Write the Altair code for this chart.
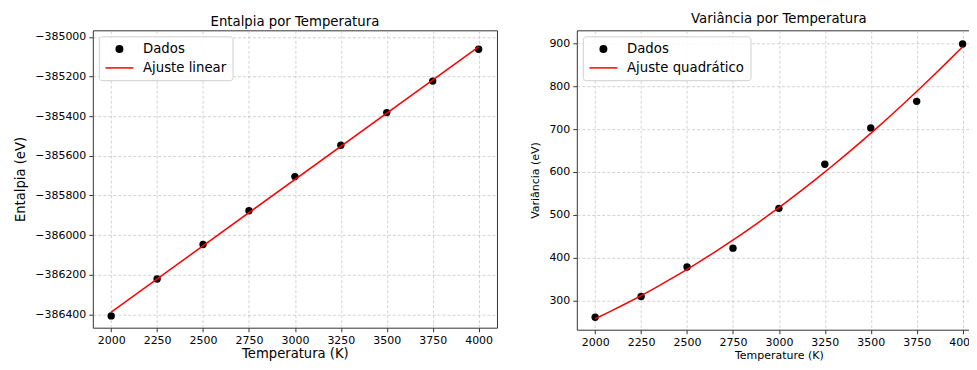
import altair as alt
import pandas as pd

temperatura = [2000, 2250, 2500, 2750, 3000, 3250, 3500, 3750, 4000]
entalpia = [-386408, -386222, -386048, -385877, -385705, -385547, -385382, -385223, -385062]
variancia = [260.5, 309, 378, 422, 515, 618, 703, 765, 899]
x_ticks = [2000, 2250, 2500, 2750, 3000, 3250, 3500, 3750, 4000]
h_ticks = [-386400, -386200, -386000, -385800, -385600, -385400, -385200, -385000]
v_ticks = [300, 400, 500, 600, 700, 800, 900]

FONT = "DejaVu Sans"

df_h = pd.DataFrame({"T": temperatura, "V": entalpia, "serie": "Dados"})
df_v = pd.DataFrame({"T": temperatura, "V": variancia, "serie": "Dados"})


def legend_props():
    return alt.Legend(
        title=None,
        orient="top-left",
        offset=6,
        fillColor="rgba(255,255,255,0.85)",
        strokeColor="#d0d0d0",
        cornerRadius=3,
        padding=6,
        labelFont=FONT,
        labelFontSize=13.3,
        labelColor="black",
        labelOffset=17,
        rowPadding=4,
        symbolSize=64,
        symbolOffset=8,
        symbolStrokeWidth=1.5,
        symbolOpacity=1,
    )


def panel(df, fit_name, method, title, xtitle, ytitle, xdomain, ydomain, yticks,
          width, height, tsize_x, tsize_y, ymin_ext, ytitle_pad, title_dy):
    dom = ["Dados", fit_name]
    fill = alt.Fill("serie:N", scale=alt.Scale(domain=dom, range=["black", "transparent"]),
                    legend=legend_props())
    shape = alt.Shape("serie:N", scale=alt.Scale(domain=dom, range=["circle", "M-3.5,0L3.5,0"]),
                      legend=legend_props())
    stroke = alt.Stroke("serie:N", scale=alt.Scale(domain=dom, range=["transparent", "red"]),
                        legend=legend_props())
    x = alt.X(
        "T:Q",
        scale=alt.Scale(domain=xdomain, nice=False, zero=False),
        axis=alt.Axis(values=x_ticks, format="d", title=xtitle, titleFontSize=tsize_x,
                      titlePadding=2, labelPadding=3),
    )
    y = alt.Y(
        "V:Q",
        scale=alt.Scale(domain=ydomain, nice=False, zero=False),
        axis=alt.Axis(values=yticks, format="d", title=ytitle, titleFontSize=tsize_y,
                      minExtent=ymin_ext, maxExtent=ymin_ext, titlePadding=ytitle_pad),
    )
    base = alt.Chart(df)
    pts = base.mark_point(size=55, filled=True, opacity=1).encode(
        x=x, y=y, fill=fill, shape=shape)
    if method == "linear":
        reg = base.transform_regression("T", "V", method="linear")
    else:
        reg = base.transform_regression("T", "V", method="poly", order=2)
    fit = reg.transform_calculate(serie=f"'{fit_name}'").mark_line(
        strokeWidth=1.5
    ).encode(x=x, y=y, stroke=stroke)
    return alt.layer(pts, fit).properties(
        width=width,
        height=height,
        title=alt.TitleParams(title, font=FONT, fontSize=13.3, fontWeight="normal",
                              color="black", offset=5.5, dy=title_dy),
    )


left = panel(df_h, "Ajuste linear", "linear", "Entalpia por Temperatura",
             "Temperatura (K)", "Entalpia (eV)", [1900, 4100], [-386467.5, -384966.8],
             h_ticks, 405, 298, 13.2, 13.2, 56, 9, 3.5)
right = panel(df_v, "Ajuste quadrático", "poly", "Variância por Temperatura",
              "Temperature (K)", "Variância (eV)", [1900, 4100], [231.4, 931.0],
              v_ticks, 405, 300, 11, 11, 30, 6, 0)

chart = alt.hconcat(left, right, spacing=80, bounds="flush").resolve_scale(
    fill="independent", shape="independent", stroke="independent"
).resolve_legend(fill="independent", shape="independent", stroke="independent").properties(
    padding={"left": 5, "top": 2, "right": -13, "bottom": 0}
).configure_view(
    stroke="#333333", strokeWidth=1
).configure_axis(
    labelFont=FONT, titleFont=FONT, labelFontSize=11, labelColor="black",
    titleColor="black", titleFontWeight="normal", tickSize=4, tickColor="#333333",
    labelPadding=3, domain=False, grid=True, gridColor="#b0b0b0", gridOpacity=0.7,
    gridDash=[3, 2], gridWidth=0.8
)

chart.save("out.html", embed_options={"renderer": "svg", "actions": False})
